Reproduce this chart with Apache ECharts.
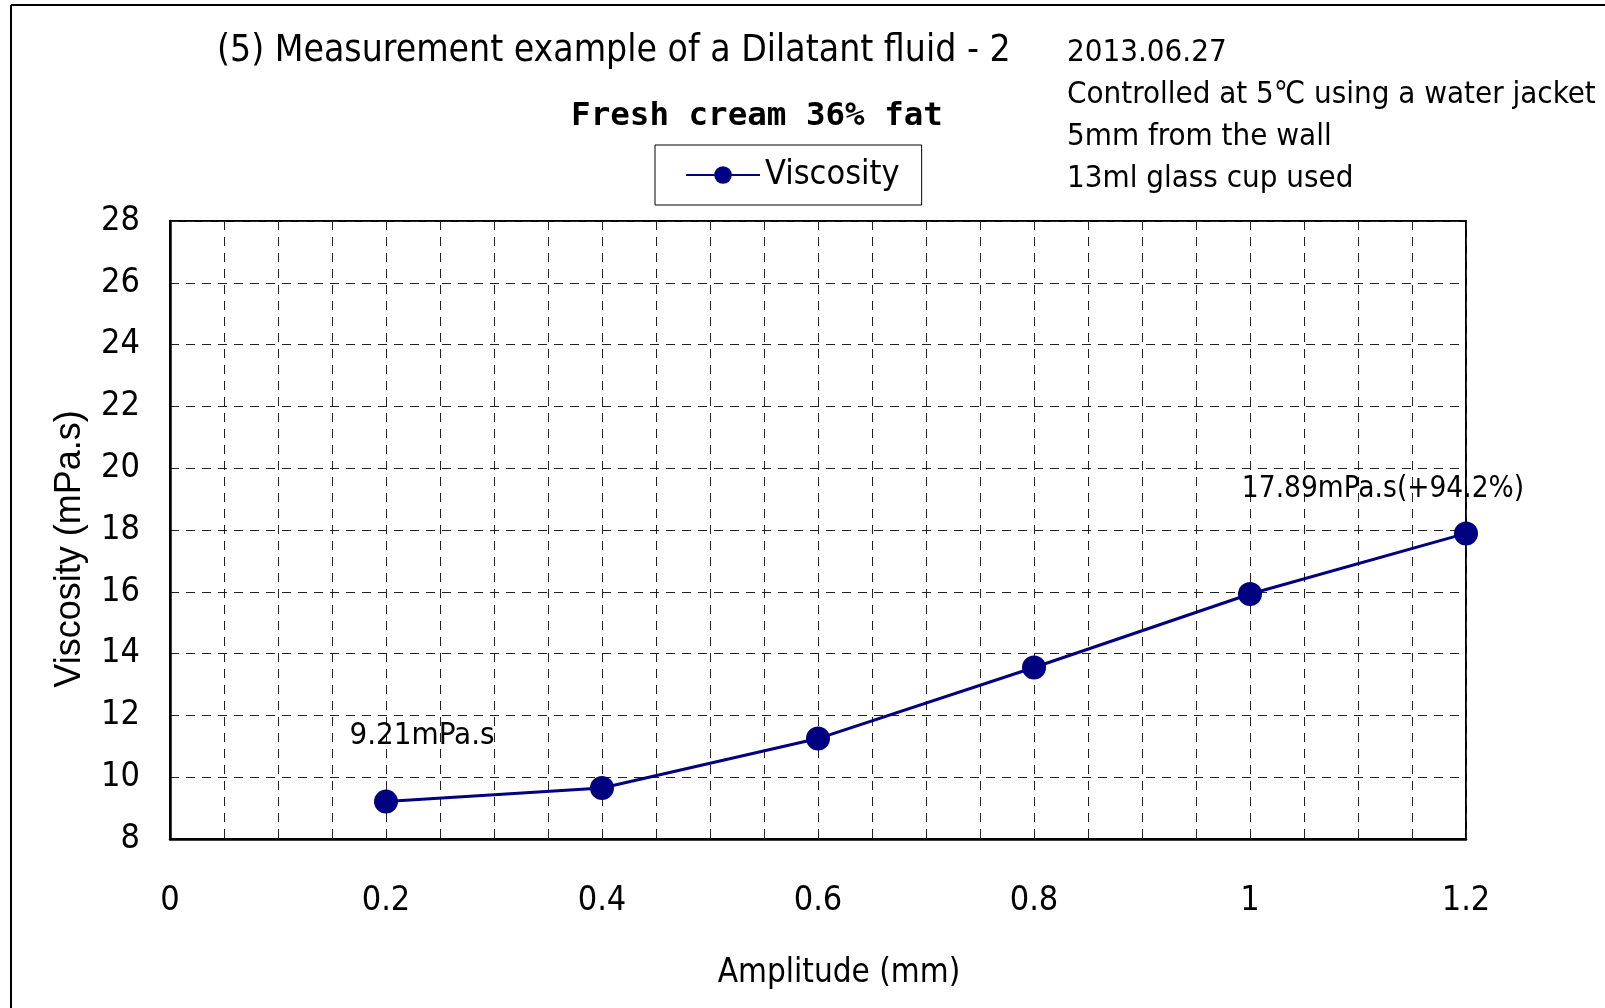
<!DOCTYPE html>
<html>
<head>
<meta charset="utf-8">
<script src="https://cdn.jsdelivr.net/npm/echarts@6/dist/echarts.min.js"></script>
<style>html,body{margin:0;padding:0;background:#fff}#c{width:1605px;height:1008px}</style>
</head>
<body>
<div id="c"></div>
<script>
const amplitude = [0.2, 0.4, 0.6, 0.8, 1.0, 1.2];
const viscosity = [9.21, 9.65, 11.25, 13.55, 15.93, 17.89];
const seriesName = 'Viscosity';
const annotations = ['9.21mPa.s', null, null, null, null, '17.89mPa.s(+94.2%)'];
const titleText = '(5) Measurement example of a Dilatant fluid - 2';
const subTitleText = 'Fresh cream 36% fat';
const noteLines = ['2013.06.27', 'Controlled at 5\u2103 using a water jacket', '5mm from the wall', '13ml glass cup used'];
const xName = 'Amplitude (mm)';
const yName = 'Viscosity (mPa.s)';

const NARROW = "'Liberation Sans Narrow', 'DejaVu Sans Condensed', sans-serif";
const chart = echarts.init(document.getElementById('c'));

const labelOffsets = [[36, -33], null, null, null, null, [-83, -12]];
const labelSizes = [31, null, null, null, null, 29.5];
const seriesData = amplitude.map((x, i) => {
  const item = { value: [x, viscosity[i]] };
  if (annotations[i]) {
    item.label = {
      show: true, position: 'top', formatter: annotations[i],
      offset: labelOffsets[i], fontSize: labelSizes[i], color: '#000', fontFamily: NARROW
    };
  }
  return item;
});

const notes = noteLines.map((t, i) => ({
  type: 'text', left: 1067, top: 37 + i * 42,
  style: { text: t, fontSize: 31, fontFamily: NARROW, fill: '#000' }
}));

chart.setOption({
  animation: false,
  backgroundColor: '#fff',
  title: [
    { text: titleText, left: 212, top: 28, textStyle: { fontSize: 37, fontWeight: 'normal', fontFamily: NARROW, color: '#000' } },
    { text: subTitleText, left: 752, top: 95, textAlign: 'center', textStyle: { fontSize: 32.5, fontWeight: 'bold', fontFamily: "'DejaVu Sans Mono', monospace", color: '#000' } }
  ],
  legend: {
    left: 655, top: 145, data: [seriesName],
    borderColor: '#000', borderWidth: 1, padding: [13, 22, 13, 30],
    itemWidth: 74, itemHeight: 22, itemGap: 10,
    textStyle: { fontSize: 34, fontFamily: NARROW, color: '#000' }
  },
  graphic: [
    { type: 'line', shape: { x1: 11, y1: 5, x2: 1605, y2: 5 }, style: { stroke: '#000', lineWidth: 2 } },
    { type: 'line', shape: { x1: 11, y1: 5, x2: 11, y2: 1008 }, style: { stroke: '#000', lineWidth: 2 } },
    ...notes
  ],
  grid: { left: 170, right: 139, top: 221, bottom: 169, show: true, borderColor: '#000', borderWidth: 2, backgroundColor: 'transparent' },
  xAxis: {
    type: 'value', min: 0, max: 1.2, interval: 0.2,
    name: xName, nameLocation: 'middle', nameGap: 118,
    nameTextStyle: { fontSize: 33, fontFamily: NARROW, color: '#000', padding: [0, 0, 0, 42] },
    axisLine: { show: true, lineStyle: { color: '#000', width: 2.5 } },
    axisTick: { show: false },
    minorTick: { show: false, splitNumber: 4 },
    minorSplitLine: { show: true, lineStyle: { color: '#222', type: [9, 7], width: 1 } },
    splitLine: { show: true, lineStyle: { color: '#222', type: [9, 7], width: 1 } },
    axisLabel: { fontSize: 34, fontFamily: NARROW, color: '#000', margin: 45, formatter: v => String(Math.round(v * 10) / 10) }
  },
  yAxis: {
    type: 'value', min: 8, max: 28, interval: 2,
    name: yName, nameLocation: 'middle', nameGap: 82,
    nameTextStyle: { fontSize: 36, fontFamily: "'Liberation Sans', Arial, sans-serif", color: '#000', padding: [0, 38, 0, 0] },
    axisLine: { show: true, lineStyle: { color: '#000', width: 2.5 } },
    axisTick: { show: false },
    splitLine: { show: true, lineStyle: { color: '#222', type: [9, 7], width: 1 } },
    axisLabel: { fontSize: 34, fontFamily: NARROW, color: '#000', margin: 30 }
  },
  series: [{
    name: seriesName, type: 'line', data: seriesData,
    symbol: 'circle', symbolSize: 24,
    lineStyle: { color: '#000080', width: 3 },
    itemStyle: { color: '#000080' },
    z: 5
  }]
});
</script>
</body>
</html>
